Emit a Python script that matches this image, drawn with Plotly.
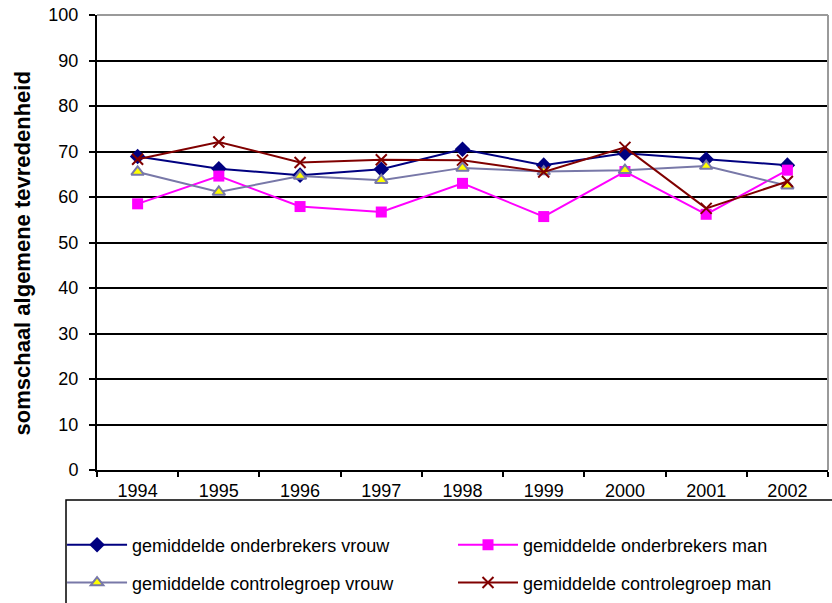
import plotly.graph_objects as go

years = ["1994", "1995", "1996", "1997", "1998", "1999", "2000", "2001", "2002"]
onderbrekers_vrouw = [68.9, 66.2, 64.8, 66.1, 70.5, 67.0, 69.6, 68.3, 67.0]
onderbrekers_man = [58.5, 64.6, 57.9, 56.7, 63.0, 55.7, 65.6, 56.2, 65.9]
controle_vrouw = [65.5, 61.1, 64.6, 63.7, 66.4, 65.6, 65.9, 66.8, 62.5]
controle_man = [68.3, 72.1, 67.6, 68.2, 68.1, 65.5, 70.9, 57.5, 63.4]
y_title = "somschaal algemene tevredenheid"

FONT = "Liberation Sans, Arial, sans-serif"

fig = go.Figure()
fig.add_trace(go.Scatter(
    x=years, y=onderbrekers_vrouw, name="gemiddelde onderbrekers vrouw",
    mode="lines+markers", line=dict(color="#000080", width=2),
    marker=dict(symbol="diamond", size=12, color="#000080"), legend="legend"))
fig.add_trace(go.Scatter(
    x=years, y=onderbrekers_man, name="gemiddelde onderbrekers man",
    mode="lines+markers", line=dict(color="#FF00FF", width=2),
    marker=dict(symbol="square", size=11, color="#FF00FF"), legend="legend2"))
fig.add_trace(go.Scatter(
    x=years, y=controle_vrouw, name="gemiddelde controlegroep vrouw",
    mode="lines+markers", line=dict(color="#7878A8", width=2),
    marker=dict(symbol="triangle-up", size=11, color="#FFFF00",
                line=dict(color="#7878A8", width=2)), legend="legend3"))
fig.add_trace(go.Scatter(
    x=years, y=controle_man, name="gemiddelde controlegroep man",
    mode="lines+markers", line=dict(color="#800000", width=2),
    marker=dict(symbol="x-thin-open", size=11, color="#800000",
                line=dict(color="#800000", width=2)), legend="legend4"))

legend_common = dict(
    orientation="h", xanchor="left", yanchor="middle",
    font=dict(family=FONT, size=18, color="black"),
    bgcolor="rgba(0,0,0,0)", borderwidth=0, itemwidth=60,
)

col1, col2 = -0.0478, 0.487
row1, row2 = -0.165, -0.248

fig.update_layout(
    width=832, height=603,
    margin=dict(l=97, r=4, t=15, b=133, autoexpand=False),
    paper_bgcolor="white", plot_bgcolor="white",
    font=dict(family=FONT, size=18, color="black"),
    showlegend=True,
    legend=dict(x=col1, y=row1, **legend_common),
    legend2=dict(x=col2, y=row1, **legend_common),
    legend3=dict(x=col1, y=row2, **legend_common),
    legend4=dict(x=col2, y=row2, **legend_common),
    xaxis=dict(
        type="category", range=[-0.5, 8.5], tickson="boundaries",
        ticks="outside", ticklen=5, tickwidth=2, tickcolor="black",
        showline=True, linecolor="black", linewidth=2, showgrid=False,
        tickfont=dict(family=FONT, size=18, color="black"), automargin=False,
        ticklabelstandoff=3,
    ),
    yaxis=dict(
        range=[0, 100], dtick=10, tick0=0,
        ticks="outside", ticklen=6, tickwidth=2, tickcolor="black",
        showline=True, linecolor="black", linewidth=2,
        showgrid=True, gridcolor="black", gridwidth=2, zeroline=False,
        tickfont=dict(family=FONT, size=18, color="black"), automargin=False,
        ticklabelstandoff=7,
    ),
    annotations=[
        dict(text="<b>" + y_title + "</b>", xref="paper", yref="paper",
             x=(22 - 97) / 731, y=(470 - 253.5) / 455, xanchor="center",
             yanchor="middle", textangle=-90, showarrow=False,
             font=dict(family=FONT, size=22, color="black")),
    ],
    shapes=[
        dict(type="line", xref="paper", yref="paper", x0=0, x1=1, y0=1, y1=1,
             line=dict(color="#9A9A9A", width=2)),
        dict(type="line", xref="paper", yref="paper", x0=1, x1=1, y0=0, y1=1,
             line=dict(color="#9A9A9A", width=2)),
        dict(type="rect", xref="paper", yref="paper",
             x0=-0.0424, x1=1.2, y0=-0.066, y1=-0.40,
             line=dict(color="black", width=1.5), fillcolor="rgba(0,0,0,0)"),
    ],
)

fig.write_html(
    "out.html",
    config={"displayModeBar": False},
    post_script="document.body.style.margin='0';document.body.style.overflow='hidden';",
)
